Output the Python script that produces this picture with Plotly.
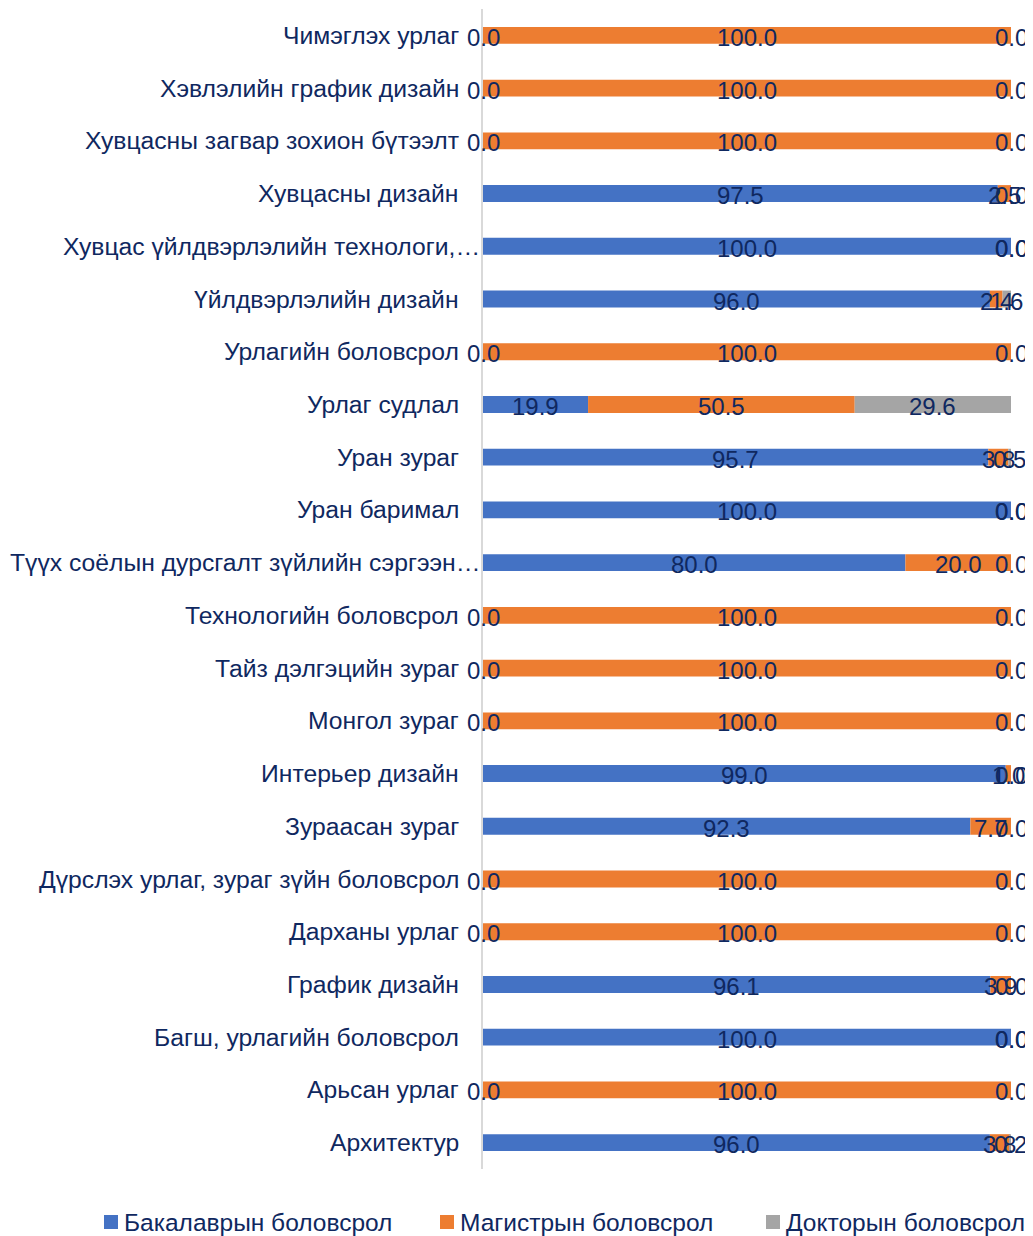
import plotly.graph_objects as go

categories = [
    "Чимэглэх урлаг",
    "Хэвлэлийн график дизайн",
    "Хувцасны загвар зохион бүтээлт",
    "Хувцасны дизайн",
    "Хувцас үйлдвэрлэлийн технологи,…",
    "Үйлдвэрлэлийн дизайн",
    "Урлагийн боловсрол",
    "Урлаг судлал",
    "Уран зураг",
    "Уран баримал",
    "Түүх соёлын дурсгалт зүйлийн сэргээн…",
    "Технологийн боловсрол",
    "Тайз дэлгэцийн зураг",
    "Монгол зураг",
    "Интерьер дизайн",
    "Зураасан зураг",
    "Дүрслэх урлаг, зураг зүйн боловсрол",
    "Дарханы урлаг",
    "График дизайн",
    "Багш, урлагийн боловсрол",
    "Арьсан урлаг",
    "Архитектур",
]

bachelor = [0.0, 0.0, 0.0, 97.5, 100.0, 96.0, 0.0, 19.9, 95.7, 100.0, 80.0,
            0.0, 0.0, 0.0, 99.0, 92.3, 0.0, 0.0, 96.1, 100.0, 0.0, 96.0]
master = [100.0, 100.0, 100.0, 2.5, 0.0, 2.4, 100.0, 50.5, 3.8, 0.0, 20.0,
          100.0, 100.0, 100.0, 1.0, 7.7, 100.0, 100.0, 3.9, 0.0, 100.0, 3.8]
doctor = [0.0, 0.0, 0.0, 0.0, 0.0, 1.6, 0.0, 29.6, 0.5, 0.0, 0.0,
          0.0, 0.0, 0.0, 0.0, 0.0, 0.0, 0.0, 0.0, 0.0, 0.0, 0.2]

series_names = ["Бакалаврын боловсрол", "Магистрын боловсрол", "Докторын боловсрол"]
series_values = [bachelor, master, doctor]
colors = ["#4472C4", "#ED7D31", "#A5A5A5"]

FONT = "Liberation Sans"
TXT = "#0f2860"

OFF = 8  # page body margin
W, H = 1033 - OFF, 1236 - OFF
ML = 483 - OFF
MR = W - (1011 - OFF)
MT = 9 - OFF
MB = H - (1169 - OFF)
PW, PH = W - ML - MR, H - MT - MB


def px_x(sx):
    return (sx - OFF - ML) / PW


def px_y(sy):
    return (H - MB - (sy - OFF)) / PH


fig = go.Figure()
base = [0.0] * len(categories)
for name, vals, color in zip(series_names, series_values, colors):
    fig.add_trace(go.Bar(
        y=categories, x=vals, base=base, name=name, orientation="h",
        marker=dict(color=color, line=dict(width=0)), width=0.32,
        showlegend=False, hoverinfo="x+y+name",
    ))
    for c, b, v in zip(categories, base, vals):
        fig.add_annotation(
            x=b + v / 2, y=c, xref="x", yref="y", text=f"{v:.1f}",
            showarrow=False, xanchor="center", yanchor="middle", yshift=-2,
            font=dict(family=FONT, size=24, color=TXT),
        )
    base = [b + v for b, v in zip(base, vals)]

for c in categories:
    fig.add_annotation(
        x=0, y=c, xref="x", yref="y", text=c, showarrow=False,
        xanchor="right", yanchor="middle",
        xshift=-1 if c.endswith("…") else -22,
        font=dict(family=FONT, size=24.7, color=TXT),
    )

# legend (manual, horizontal below the plot)
legend_marker_px = [104, 440, 766]
legend_y_px = 1222
for name, color, mx in zip(series_names, colors, legend_marker_px):
    fig.add_shape(
        type="rect", xref="paper", yref="paper",
        x0=px_x(mx), x1=px_x(mx + 14),
        y0=px_y(legend_y_px + 7), y1=px_y(legend_y_px - 7),
        fillcolor=color, line=dict(width=0),
    )
    fig.add_annotation(
        x=px_x(mx + 18), y=px_y(legend_y_px), xref="paper", yref="paper",
        text=name, showarrow=False, xanchor="left", yanchor="middle",
        font=dict(family=FONT, size=24.5, color=TXT),
    )

n = len(categories)
fig.update_layout(
    width=W, height=H,
    margin=dict(l=ML, r=MR, t=MT, b=MB, autoexpand=False),
    paper_bgcolor="white", plot_bgcolor="white",
    barmode="overlay",
    showlegend=False,
    xaxis=dict(range=[0, 100], visible=False, fixedrange=True),
    yaxis=dict(range=[n - 0.5, -0.5], showticklabels=False, ticks="",
               showline=True, linecolor="#d9d9d9", linewidth=2,
               showgrid=False, zeroline=False),
)

fig.write_html("out.html")
